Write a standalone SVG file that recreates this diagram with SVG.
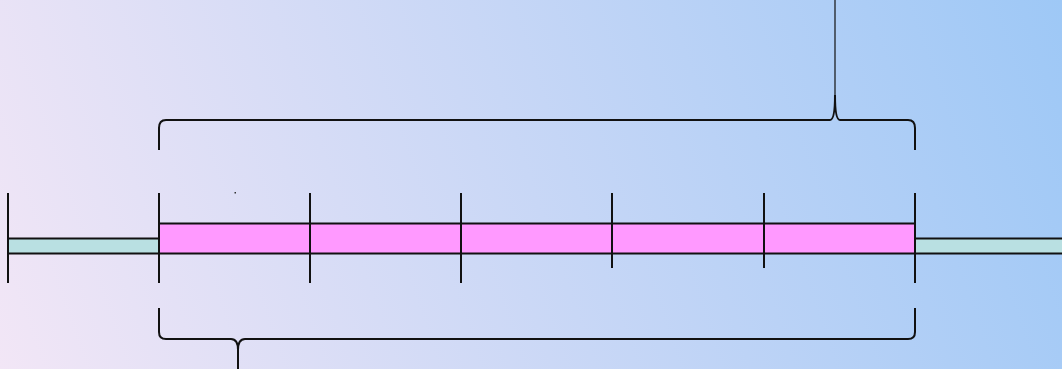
<svg xmlns="http://www.w3.org/2000/svg" width="1062" height="369" viewBox="0 0 1062 369">
<defs>
<linearGradient id="bg" x1="0" y1="369" x2="1062" y2="0" gradientUnits="userSpaceOnUse">
<stop offset="0" stop-color="#f2e6f6"/>
<stop offset="1" stop-color="#9ec8f6"/>
</linearGradient>
<style>
.bar{stroke:#111;stroke-width:2}
.teal{fill:#b9e0e2}
.pink{fill:#ff99ff}
.tick{stroke:#111;stroke-width:2;fill:none}
.brace{stroke:#111;stroke-width:2;fill:none}
</style>
</defs>
<rect x="0" y="0" width="1062" height="369" fill="url(#bg)"/>
<g id="bar-left"><rect class="bar teal" x="8" y="238.5" width="151" height="15"/></g>
<g id="bar-right"><rect class="bar teal" x="915" y="238.5" width="150" height="15"/></g>
<g id="bar-middle"><rect class="bar pink" x="159" y="223.5" width="756" height="30"/></g>
<g id="ticks">
<line class="tick" x1="8" y1="193" x2="8" y2="283"/>
<line class="tick" x1="159" y1="193" x2="159" y2="283"/>
<line class="tick" x1="310" y1="193" x2="310" y2="283"/>
<line class="tick" x1="461" y1="193" x2="461" y2="283"/>
<line class="tick" x1="612" y1="193" x2="612" y2="268"/>
<line class="tick" x1="764" y1="193" x2="764" y2="268"/>
<line class="tick" x1="915" y1="193" x2="915" y2="283"/>
</g>
<g id="brace-top">
<path class="brace" d="M159,150 L159,128 Q159,120 166,120 L830,120 Q835,120 835,95 Q835,120 840,120 L908,120 Q915,120 915,128 L915,150"/>
<line x1="835" y1="0" x2="835" y2="95" stroke="#111" stroke-width="1.2"/>
</g>
<g id="brace-bottom">
<path class="brace" d="M159,308 L159,332 Q159,339 166,339 L231,339 Q238,339 238,350 L238,369 M238,350 Q238,339 245,339 L908,339 Q915,339 915,332 L915,308"/>
</g>
<g id="dot"><rect x="234.5" y="192" width="1.5" height="1.5" fill="#333"/></g>
</svg>
